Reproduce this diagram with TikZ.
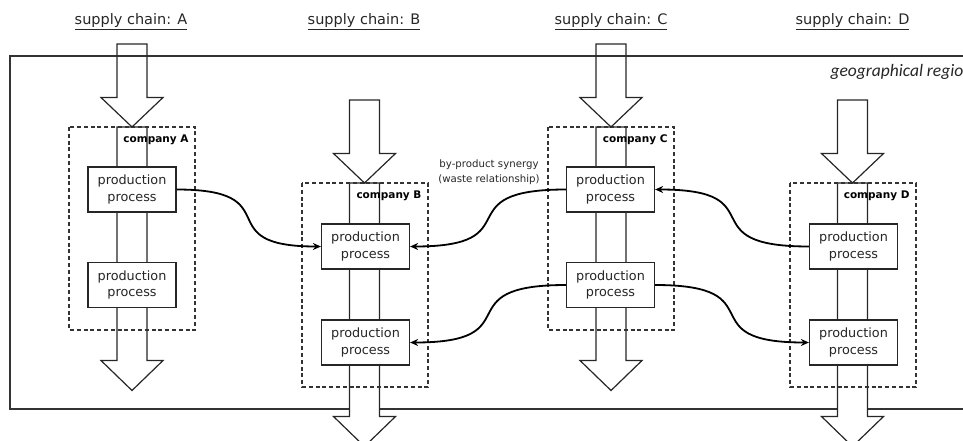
\documentclass[tikz,border=0pt]{standalone}
\usepackage{fontspec}
\setmainfont{DejaVu Sans}
\newfontfamily\regionfont{Carlito}
\usetikzlibrary{arrows.meta}

\tikzset{
  region/.style={draw=black!80, line width=1.4pt},
  bigarrow/.style={draw=black!85, line width=1.2pt, line join=miter},
  companybox/.style={draw=black!80, line width=1.1pt, dash pattern=on 4pt off 2.8pt},
  process/.style={draw=black!85, line width=1.2pt, fill=white, minimum width=88pt,
    minimum height=45pt, inner sep=0pt, align=center, text=black!85,
    font=\fontsize{12.8}{16.5}\selectfont},
  chainlabel/.style={text=black!85, font=\fontsize{14.5}{17}\selectfont},
  companylabel/.style={anchor=east, text=black, font=\bfseries\fontsize{10.5}{12}\selectfont},
  notelabel/.style={align=center, text=black!85, font=\fontsize{10.2}{15}\selectfont},
  synergy/.style={draw=black, line width=1.8pt, -{Stealth[length=8pt,width=7pt]}, looseness=1.9},
}

\begin{document}
\begin{tikzpicture}[x=1pt,y=-1pt]
  \clip (0,0) rectangle (963,441);
  \useasboundingbox (0,0) rectangle (963,441);

  % geographical region (runs on past the right edge of the page)
  \draw[region] (10,56) rectangle (1000,409);
  \node[anchor=west, text=black!85, font=\regionfont\itshape\fontsize{17.5}{19}\selectfont]
    (geo) at (827,72) {geographical region};

  % outgoing flows (shaft through the company, then arrowhead)
  \foreach \cx/\tp in {132/127, 611/127, 364.5/183, 852.5/183}{
    \draw[bigarrow, fill=white]
      (\cx-15,\tp) -- (\cx-15,\tp+233.5) -- (\cx-31,\tp+233.5) -- (\cx,\tp+263.5)
      -- (\cx+31,\tp+233.5) -- (\cx+15,\tp+233.5) -- (\cx+15,\tp) -- cycle;
  }

  % company borders
  \draw[companybox] (69,127) rectangle (195,330);
  \draw[companybox] (302,183) rectangle (428,387);
  \draw[companybox] (548,127) rectangle (674,330);
  \draw[companybox] (790,183) rectangle (916,387);

  % incoming flows
  \foreach \cx/\tp in {132/44, 611/44, 364.5/100, 852.5/100}{
    \draw[bigarrow]
      (\cx-15,\tp) -- (\cx+15,\tp) -- (\cx+15,\tp+53.5) -- (\cx+31,\tp+53.5)
      -- (\cx,\tp+83) -- (\cx-31,\tp+53.5) -- (\cx-15,\tp+53.5) -- cycle;
  }

  % supply chain titles
  \node[chainlabel] (tA) at (131,22) {\underline{supply chain: A}};
  \node[chainlabel] (tB) at (364,22) {\underline{supply chain: B}};
  \node[chainlabel] (tC) at (611,22) {\underline{supply chain: C}};
  \node[chainlabel] (tD) at (852.5,22) {\underline{supply chain: D}};

  % company names
  \node[companylabel] (kA) at (192,140) {company A};
  \node[companylabel] (kB) at (425,196) {company B};
  \node[companylabel] (kC) at (671,140) {company C};
  \node[companylabel] (kD) at (913,196) {company D};

  % production processes
  \node[process] (a1) at (132,189.5) {production\\process};
  \node[process] (a2) at (132,285) {production\\process};
  \node[process] (b1) at (365.5,246.5) {production\\process};
  \node[process] (b2) at (365.5,342.5) {production\\process};
  \node[process] (c1) at (610.5,189.5) {production\\process};
  \node[process] (c2) at (610.5,285) {production\\process};
  \node[process] (d1) at (853.5,246.5) {production\\process};
  \node[process] (d2) at (853.5,342.5) {production\\process};

  % by-product synergies
  \node[notelabel] (note) at (489,172) {by-product synergy\\(waste relationship)};
  \draw[synergy] (a1.east) to[out=0,in=180] (b1.west);
  \draw[synergy] (c1.west) to[out=180,in=0] (b1.east);
  \draw[synergy] (d1.west) to[out=180,in=0] (c1.east);
  \draw[synergy] (c2.west) to[out=180,in=0] (b2.east);
  \draw[synergy] (c2.east) to[out=0,in=180] (d2.west);
\end{tikzpicture}
\end{document}
